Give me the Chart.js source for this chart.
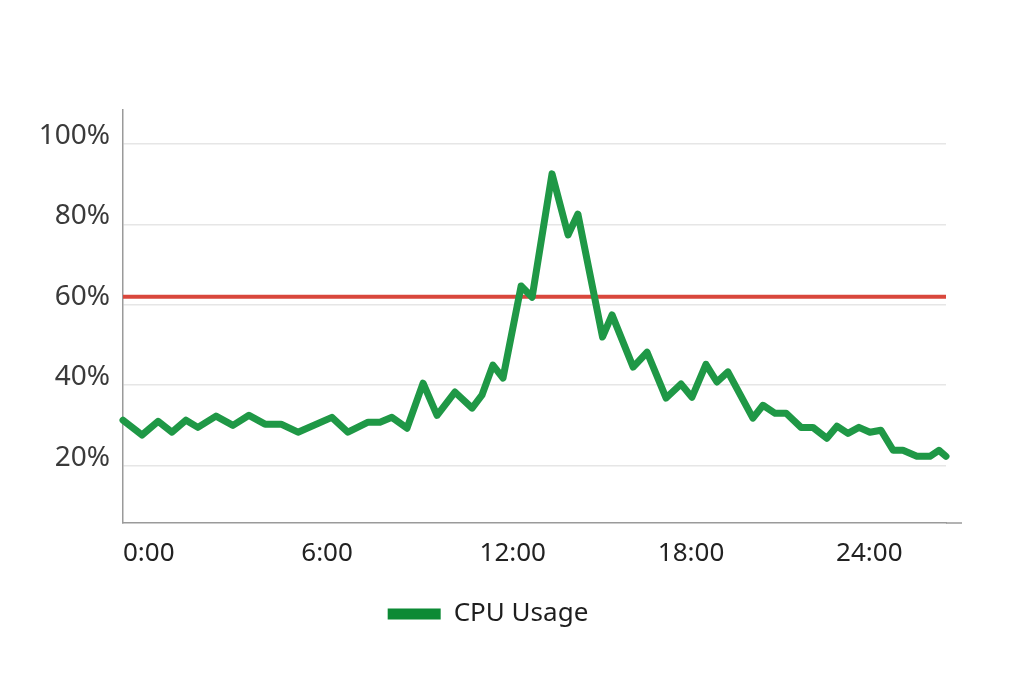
<!DOCTYPE html>
<html>
<head>
<meta charset="utf-8">
<title>CPU Usage</title>
<script src="https://cdn.jsdelivr.net/npm/chart.js@4.4.1/dist/chart.umd.min.js"></script>
<style>
    html, body { margin: 0; padding: 0; background: #fff; }
    #wrap { width: 1024px; height: 683px; }
</style>
</head>
<body>
<div id="wrap"><canvas id="cpuChart" width="1024" height="683"></canvas></div>
<script>
// Time of each sample, in hours
const hours = [0, 0.64, 1.18, 1.65, 2.12, 2.52, 3.13, 3.70, 4.24, 4.78,
    5.32, 5.89, 7.03, 7.57, 8.25, 8.65, 9.05, 9.56, 10.10, 10.57,
    11.17, 11.75, 12.08, 12.45, 12.79, 13.40, 13.77, 14.44, 14.98, 15.31,
    16.14, 16.46, 17.17, 17.64, 18.28, 18.78, 19.15, 19.62, 19.99, 20.36,
    21.20, 21.54, 21.95, 22.32, 22.82, 23.22, 23.69, 24.03, 24.40, 24.77,
    25.14, 25.51, 25.92, 26.25, 26.72, 27.16, 27.46, 27.70];

// CPU usage in percent
const cpuUsage = [31.3, 27.6, 31.0, 28.3, 31.3, 29.5, 32.3, 30.0, 32.5, 30.3,
    30.3, 28.3, 32.0, 28.3, 30.8, 30.8, 32.0, 29.3, 40.5, 32.5,
    38.3, 34.3, 37.5, 45.0, 41.8, 64.7, 61.9, 92.6, 77.4, 82.6,
    52.0, 57.5, 44.5, 48.2, 36.8, 40.3, 37.0, 45.2, 40.8, 43.3,
    31.8, 35.0, 33.0, 33.0, 29.5, 29.5, 26.8, 29.8, 28.0, 29.5,
    28.3, 28.8, 23.8, 23.8, 22.3, 22.3, 23.8, 22.3];

// Alert threshold (red line) and its span
const threshold = 62;
const thresholdSpan = [0, 27.7];

// Tick labels
const xTicks = [0, 6, 12, 18, 24];
const yTicks = [20, 40, 60, 80, 100];

const FONT = "'Noto Sans', 'Open Sans', sans-serif";

// bottom axis line runs a little past the plot
const axisExtension = {
    id: 'axisExtension',
    afterDraw(chart) {
        const { ctx, chartArea } = chart;
        ctx.save();
        ctx.strokeStyle = '#9a9a9a';
        ctx.lineWidth = 1.5;
        ctx.beginPath();
        ctx.moveTo(chartArea.right, chartArea.bottom);
        ctx.lineTo(chartArea.right + 16, chartArea.bottom);
        ctx.stroke();
        ctx.restore();
    }
};

function initChart() {
    const ctx = document.getElementById('cpuChart').getContext('2d');

    const data = {
        datasets: [{
            label: 'CPU Usage',
            data: hours.map((h, i) => ({ x: h, y: cpuUsage[i] })),
            borderColor: '#1f9846',
            backgroundColor: '#0c8a35',
            borderWidth: 7,
            borderJoinStyle: 'round',
            borderCapStyle: 'round',
            pointRadius: 0,
            tension: 0,
            clip: false
        }, {
            label: 'Threshold',
            data: thresholdSpan.map(h => ({ x: h, y: threshold })),
            borderColor: '#d9473c',
            borderWidth: 4,
            pointRadius: 0,
            tension: 0
        }]
    };

    const config = {
        type: 'line',
        data: data,
        options: {
            responsive: false,
            animation: false,
            layout: {
                padding: { top: 110, left: 30, right: 78, bottom: 46 }
            },
            scales: {
                x: {
                    type: 'linear',
                    min: 0,
                    max: 27.7,
                    afterBuildTicks: (axis) => {
                        axis.ticks = xTicks.map(v => ({ value: v }));
                    },
                    afterFit: (axis) => { axis.height = 68; },
                    grid: { display: false, drawTicks: false },
                    border: { display: true, color: '#9a9a9a', width: 1.5 },
                    ticks: {
                        align: 'start',
                        padding: 15,
                        color: '#222',
                        font: { family: FONT, size: 26 },
                        callback: (v) => v + ':00'
                    }
                },
                y: {
                    min: 5.7,
                    max: 108.5,
                    afterBuildTicks: (axis) => {
                        axis.ticks = yTicks.map(v => ({ value: v }));
                    },
                    afterFit: (axis) => { axis.width = 93; },
                    grid: { color: '#e6e6e6', lineWidth: 1.5, drawTicks: false },
                    border: { display: true, color: '#9a9a9a', width: 1.5 },
                    ticks: {
                        padding: 13,
                        labelOffset: -8,
                        color: '#3a3a3a',
                        font: { family: FONT, size: 28 },
                        callback: (v) => v + '%'
                    }
                }
            },
            plugins: {
                tooltip: { enabled: false },
                legend: {
                    position: 'bottom',
                    labels: {
                        boxWidth: 53,
                        boxHeight: 11,
                        padding: 10,
                        color: '#1e1e1e',
                        font: { family: FONT, size: 26 },
                        generateLabels: (chart) => {
                            return Chart.defaults.plugins.legend.labels.generateLabels(chart)
                                .filter(item => item.datasetIndex === 0)
                                .map(item => {
                                    item.lineWidth = 0;
                                    item.strokeStyle = 'rgba(0,0,0,0)';
                                    item.fillStyle = '#0c8a35';
                                    return item;
                                });
                        }
                    }
                }
            }
        },
        plugins: [axisExtension]
    };

    new Chart(ctx, config);
}

document.addEventListener('DOMContentLoaded', initChart);
</script>
</body>
</html>
